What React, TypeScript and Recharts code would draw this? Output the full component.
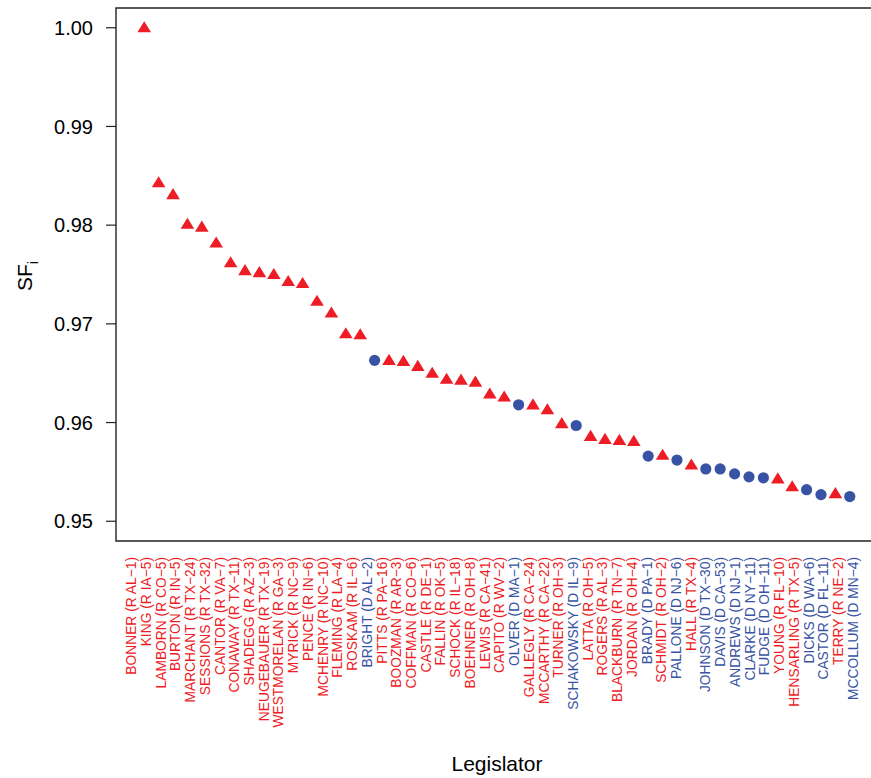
import React from "react";
import {
  ReferenceArea,
  Scatter,
  ScatterChart,
  XAxis,
  YAxis,
} from "recharts";

// legislators, ordered by SF_i (highest first)
const names = [
  "BONNER (R AL\u22121)", "KING (R IA\u22125)", "LAMBORN (R CO\u22125)", "BURTON (R IN\u22125)",
  "MARCHANT (R TX\u221224)", "SESSIONS (R TX\u221232)", "CANTOR (R VA\u22127)", "CONAWAY (R TX\u221211)",
  "SHADEGG (R AZ\u22123)", "NEUGEBAUER (R TX\u221219)", "WESTMORELAN (R GA\u22123)", "MYRICK (R NC\u22129)",
  "PENCE (R IN\u22126)", "MCHENRY (R NC\u221210)", "FLEMING (R LA\u22124)", "ROSKAM (R IL\u22126)",
  "BRIGHT (D AL\u22122)", "PITTS (R PA\u221216)", "BOOZMAN (R AR\u22123)", "COFFMAN (R CO\u22126)",
  "CASTLE (R DE\u22121)", "FALLIN (R OK\u22125)", "SCHOCK (R IL\u221218)", "BOEHNER (R OH\u22128)",
  "LEWIS (R CA\u221241)", "CAPITO (R WV\u22122)", "OLVER (D MA\u22121)", "GALLEGLY (R CA\u221224)",
  "MCCARTHY (R CA\u221222)", "TURNER (R OH\u22123)", "SCHAKOWSKY (D IL\u22129)", "LATTA (R OH\u22125)",
  "ROGERS (R AL\u22123)", "BLACKBURN (R TN\u22127)", "JORDAN (R OH\u22124)", "BRADY (D PA\u22121)",
  "SCHMIDT (R OH\u22122)", "PALLONE (D NJ\u22126)", "HALL (R TX\u22124)", "JOHNSON (D TX\u221230)",
  "DAVIS (D CA\u221253)", "ANDREWS (D NJ\u22121)", "CLARKE (D NY\u221211)", "FUDGE (D OH\u221211)",
  "YOUNG (R FL\u221210)", "HENSARLING (R TX\u22125)", "DICKS (D WA\u22126)", "CASTOR (D FL\u221211)",
  "TERRY (R NE\u22122)", "MCCOLLUM (D MN\u22124)",
];

const parties = [
  "R", "R", "R", "R", "R", "R", "R", "R", "R", "R", "R", "R", "R", "R", "R", "R",
  "D", "R", "R", "R", "R", "R", "R", "R", "R", "R", "D", "R", "R", "R", "D", "R",
  "R", "R", "R", "D", "R", "D", "R", "D", "D", "D", "D", "D", "R", "R", "D", "D",
  "R", "D",
];

const sfValues = [
  1.0, 0.9843, 0.9831, 0.9801, 0.9798, 0.9782, 0.9762, 0.9754, 0.9752, 0.975,
  0.9743, 0.9741, 0.9723, 0.9711, 0.969, 0.9689, 0.9663, 0.9663, 0.9662, 0.9657,
  0.965, 0.9644, 0.9643, 0.9641, 0.9629, 0.9626, 0.9618, 0.9618, 0.9613, 0.9599,
  0.9597, 0.9586, 0.9583, 0.9582, 0.9581, 0.9566, 0.9567, 0.9562, 0.9557, 0.9553,
  0.9553, 0.9548, 0.9545, 0.9544, 0.9543, 0.9535, 0.9532, 0.9527, 0.9528, 0.9525,
];

const yTicks = [0.95, 0.96, 0.97, 0.98, 0.99, 1.0];

const RED = "#ee1c25";
const BLUE = "#3953a4";
const FONT = "'Liberation Sans', Arial, Helvetica, sans-serif";

const data = names.map((name, i) => ({
  idx: i + 1,
  name,
  party: parties[i],
  sf: sfValues[i],
}));
const gop = data.filter((d) => d.party === "R");
const dem = data.filter((d) => d.party === "D");

const Triangle = (props: any) => {
  const { cx, cy } = props;
  return (
    <polygon
      points={`${cx},${cy - 6.5} ${cx - 6.8},${cy + 4.6} ${cx + 6.8},${cy + 4.6}`}
      fill={RED}
    />
  );
};

const Dot = (props: any) => {
  const { cx, cy } = props;
  return <circle cx={cx} cy={cy} r={5.6} fill={BLUE} />;
};

// labels in the original sit on a slightly wider grid than the points
const NameTick = (props: any) => {
  const { x, y, payload } = props;
  const i = payload.value - 1;
  const d = data[i];
  if (!d) return null;
  const shift = -13 + (i * 16) / 49;
  return (
    <g transform={`translate(${x + shift},${y + 8})`}>
      <text
        transform="rotate(-90)"
        textAnchor="end"
        dy="0.36em"
        fontSize={13.8}
        fontFamily={FONT}
        fill={d.party === "R" ? RED : BLUE}
      >
        {d.name}
      </text>
    </g>
  );
};

export default function App() {
  return (
    <div
      style={{
        position: "absolute",
        left: 0,
        top: 0,
        width: 871,
        height: 778,
        overflow: "hidden",
        background: "#fff",
      }}
    >
      <ScatterChart
        width={890}
        height={778}
        margin={{ top: 8, right: 12, bottom: 0, left: 0 }}
      >
        <XAxis
          type="number"
          dataKey="idx"
          domain={[-0.96, 51.96]}
          ticks={data.map((d) => d.idx)}
          interval={0}
          tick={<NameTick />}
          tickLine={false}
          axisLine={false}
          height={237}
          allowDataOverflow
        />
        <YAxis
          type="number"
          dataKey="sf"
          domain={[0.948, 1.002]}
          ticks={yTicks}
          tickFormatter={(v: number) => v.toFixed(2)}
          tick={{ fill: "#000", fontSize: 20, fontFamily: FONT }}
          tickLine={{ stroke: "#222", strokeWidth: 1.2 }}
          tickSize={10}
          tickMargin={13}
          axisLine={false}
          width={116}
          allowDataOverflow
        />
        <ReferenceArea
          x1={-0.96}
          x2={51.96}
          y1={0.948}
          y2={1.002}
          fill="none"
          stroke="#222"
          strokeWidth={1.4}
          ifOverflow="visible"
        />
        <Scatter data={gop} shape={<Triangle />} isAnimationActive={false} />
        <Scatter data={dem} shape={<Dot />} isAnimationActive={false} />
        <text
          x={497}
          y={771}
          textAnchor="middle"
          fontSize={21}
          fontFamily={FONT}
          fill="#000"
        >
          Legislator
        </text>
        <text
          transform="translate(32,276) rotate(-90)"
          textAnchor="middle"
          fontSize={21}
          fontFamily={FONT}
          fill="#000"
        >
          SF
          <tspan fontSize={14} dy={6}>
            i
          </tspan>
        </text>
      </ScatterChart>
    </div>
  );
}
